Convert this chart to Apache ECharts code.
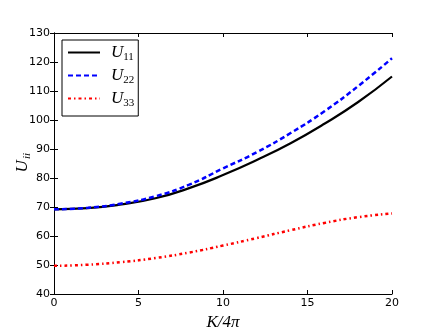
<!DOCTYPE html>
<html>
<head>
<meta charset="utf-8">
<script src="https://cdn.jsdelivr.net/npm/echarts@6/dist/echarts.min.js"></script>
<style>
html, body { margin: 0; padding: 0; background: #fff; }
#chart { width: 436px; height: 327px; }
</style>
</head>
<body>
<div id="chart"></div>
<script>
// K/4pi values and curves
var kValues = [0, 2, 4, 6, 8, 10, 12, 14, 16, 18, 20];
var u11 = [69.2, 69.6, 70.9, 73.0, 76.5, 81.0, 86.2, 92.0, 98.7, 106.2, 115.0];
var u22 = [69.2, 69.7, 71.2, 73.7, 77.7, 83.3, 88.9, 95.5, 103.0, 111.7, 121.3];
var u33 = [49.7, 50.1, 51.0, 52.4, 54.3, 56.7, 59.3, 62.0, 64.5, 66.5, 67.8];
var seriesNames = ["U11", "U22", "U33"];

function pairs(ys) {
    return kValues.map(function (k, i) { return [k, ys[i]]; });
}

var myChart = echarts.init(document.getElementById("chart"));
var tickFont = { color: "#000", fontSize: 11, fontFamily: "DejaVu Sans" };
var mathRich = {
    u: { fontFamily: "Liberation Serif", fontStyle: "italic", fontSize: 17, color: "#000", height: 18 },
    s: { fontFamily: "Liberation Serif", fontSize: 11, color: "#000", verticalAlign: "bottom", padding: [10, 0, 0, 0] },
    si: { fontFamily: "Liberation Serif", fontStyle: "italic", fontSize: 11, color: "#000", verticalAlign: "bottom", padding: [10, 0, 0, 1] }
};

var option = {
    animation: false,
    grid: { left: 54, right: 44, top: 33, bottom: 33, containLabel: false, outerBoundsMode: "none" },
    legend: {
        left: 62,
        top: 40,
        orient: "vertical",
        itemWidth: 32,
        itemHeight: 12,
        itemGap: 4,
        padding: [4, 4, 7, 5],
        borderColor: "#000",
        borderWidth: 1,
        borderRadius: 0,
        backgroundColor: "#fff",
        itemStyle: { opacity: 0 },
        data: seriesNames,
        formatter: function (name) {
            return "{u|U}{s|" + name.slice(1) + "}";
        },
        textStyle: { rich: mathRich, padding: [0, 0, 0, 6] }
    },
    xAxis: [
        {
            type: "value",
            min: 0, max: 20, interval: 5,
            name: "K/4π",
            nameLocation: "middle",
            nameGap: 16,
            nameTextStyle: { fontFamily: "Liberation Serif", fontStyle: "italic", fontSize: 17, color: "#000" },
            axisLine: { lineStyle: { color: "#000", width: 1 } },
            axisTick: { inside: true, length: 4, lineStyle: { color: "#000" } },
            axisLabel: Object.assign({ margin: 4 }, tickFont),
            splitLine: { show: false }
        },
        {
            type: "value", position: "top",
            min: 0, max: 20, interval: 5,
            axisLine: { show: true, lineStyle: { color: "#000", width: 1 } },
            axisTick: { inside: true, length: 4, lineStyle: { color: "#000" } },
            axisLabel: { show: false },
            splitLine: { show: false }
        }
    ],
    yAxis: [
        {
            type: "value",
            min: 40, max: 130, interval: 10,
            axisLine: { show: true, lineStyle: { color: "#000", width: 1 } },
            axisTick: { show: true, inside: true, length: 4, lineStyle: { color: "#000" } },
            axisLabel: Object.assign({ margin: 4 }, tickFont),
            splitLine: { show: false }
        },
        {
            type: "value", position: "right",
            min: 40, max: 130, interval: 10,
            axisLine: { show: true, lineStyle: { color: "#000", width: 1 } },
            axisTick: { show: true, inside: true, length: 4, lineStyle: { color: "#000" } },
            axisLabel: { show: false },
            splitLine: { show: false }
        }
    ],
    graphic: [
        {
            type: "text",
            left: 14,
            top: 153,
            rotation: Math.PI / 2,
            style: {
                text: "{u|U}{si|ii}",
                rich: mathRich
            }
        }
    ],
    series: [
        {
            name: seriesNames[0], type: "line", smooth: true, symbol: "none",
            data: pairs(u11),
            lineStyle: { color: "#000", width: 2.2 },
            itemStyle: { color: "#000" }
        },
        {
            name: seriesNames[1], type: "line", smooth: true, symbol: "none",
            data: pairs(u22),
            lineStyle: { color: "#0000ff", width: 2.5, type: [5, 3] },
            itemStyle: { color: "#0000ff" }
        },
        {
            name: seriesNames[2], type: "line", smooth: true, symbol: "none",
            data: pairs(u33),
            lineStyle: { color: "#ff0000", width: 2.5, type: [3, 3, 1.5, 3] },
            itemStyle: { color: "#ff0000" }
        }
    ]
};
myChart.setOption(option, true);
</script>
</body>
</html>
